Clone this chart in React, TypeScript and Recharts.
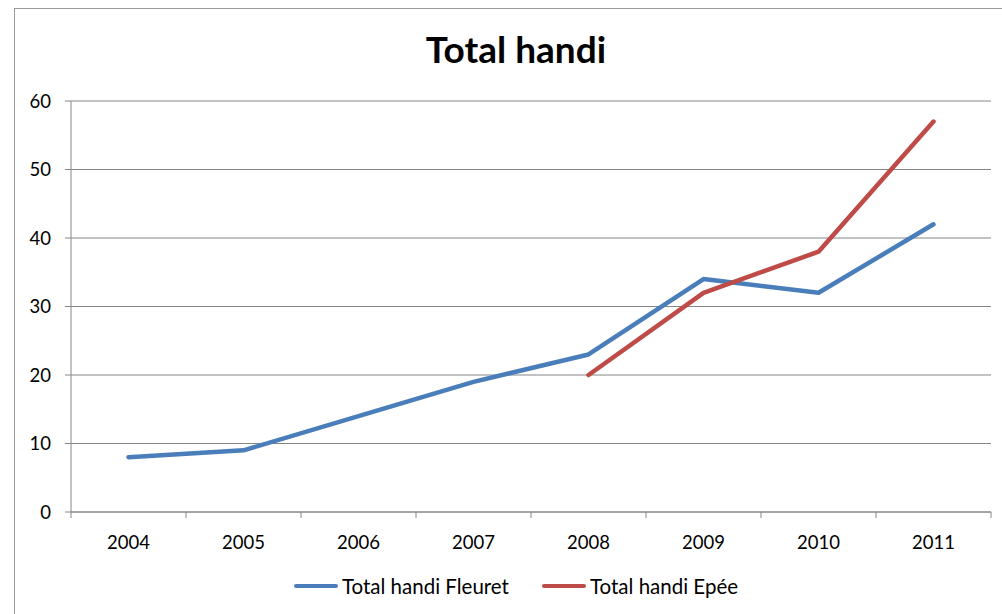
import React from 'react';
import { LineChart, Line, XAxis, YAxis, CartesianGrid, Legend } from 'recharts';

const years: string[] = ['2004', '2005', '2006', '2007', '2008', '2009', '2010', '2011'];
const fleuret: (number | null)[] = [8, 9, 14, 19, 23, 34, 32, 42];
const epee: (number | null)[] = [null, null, null, null, 20, 32, 38, 57];
const yTicks: number[] = [0, 10, 20, 30, 40, 50, 60];
const seriesNames: string[] = ['Total handi Fleuret', 'Total handi Epée'];

const data = years.map((y, i) => ({ year: y, fleuret: fleuret[i], epee: epee[i] }));

const W = 1002;
const H = 614;
const PLOT_LEFT = 71;
const PLOT_RIGHT = 991;
const BAND = (PLOT_RIGHT - PLOT_LEFT) / years.length;
const GRID = '#868686';
const FONT = 'Lato, "Open Sans", sans-serif';

function XTick(props: any) {
  const { x, y, payload, index, visibleTicksCount } = props;
  const last = index === visibleTicksCount - 1;
  return (
    <g>
      <line x1={x - BAND / 2} x2={x - BAND / 2} y1={y} y2={y + 6} stroke={GRID} strokeWidth={1} />
      {last && <line x1={x + BAND / 2} x2={x + BAND / 2} y1={y} y2={y + 6} stroke={GRID} strokeWidth={1} />}
      <text x={x} y={y + 37} textAnchor="middle" fill="#000" fontSize={18.5} fontFamily={FONT}>
        {payload.value}
      </text>
    </g>
  );
}

function LegendContent(props: any) {
  const items = [...(props.payload || [])].sort(
    (a: any, b: any) => seriesNames.indexOf(a.value) - seriesNames.indexOf(b.value)
  );
  return (
    <div style={{ display: 'flex', justifyContent: 'center', gap: 33, alignItems: 'center', width: '100%' }}>
      {items.map((p: any) => (
        <div key={p.value} style={{ display: 'flex', alignItems: 'center' }}>
          <div style={{ width: 44, height: 4.5, borderRadius: 2.5, background: p.color, marginRight: 4 }} />
          <span style={{ fontFamily: FONT, fontSize: 20.5, color: '#000', lineHeight: '26px' }}>{p.value}</span>
        </div>
      ))}
    </div>
  );
}

export default function App() {
  return (
    <div style={{ position: 'absolute', left: 0, top: 0, width: W, height: H, overflow: 'hidden', background: '#fff' }}>
      <div
        style={{
          position: 'absolute',
          left: 14,
          top: 8,
          width: 1100,
          height: 800,
          border: '1px solid #9a9a9a',
        }}
      />
      <div
        style={{
          position: 'absolute',
          left: 15,
          width: 1002,
          top: 30,
          textAlign: 'center',
          fontFamily: FONT,
          fontWeight: 700,
          fontSize: 37,
          lineHeight: 1,
          color: '#000',
        }}
      >
        Total handi
      </div>
      <div style={{ position: 'absolute', left: 0, top: 0 }}>
        <LineChart width={W} height={H} data={data} margin={{ top: 101, right: W - PLOT_RIGHT, bottom: 62, left: 0 }}>
          <CartesianGrid vertical={false} stroke={GRID} strokeWidth={1} />
          <XAxis
            dataKey="year"
            height={40}
            padding={{ left: BAND / 2, right: BAND / 2 }}
            axisLine={{ stroke: GRID, strokeWidth: 1 }}
            tickLine={false}
            tickSize={0}
            tickMargin={0}
            tick={<XTick />}
            interval={0}
          />
          <YAxis
            width={PLOT_LEFT}
            domain={[0, 60]}
            ticks={yTicks}
            axisLine={{ stroke: GRID, strokeWidth: 1 }}
            tickLine={{ stroke: GRID, strokeWidth: 1 }}
            tickSize={6}
            tickMargin={14}
            tick={{ fill: '#000', fontSize: 18.5, fontFamily: FONT }}
          />
          <Legend
            layout="horizontal"
            verticalAlign="middle"
            align="center"
            wrapperStyle={{ top: 573, left: 15, width: 1002, height: 26 }}
            content={<LegendContent />}
          />
          <Line
            type="linear"
            dataKey="fleuret"
            name={seriesNames[0]}
            stroke="#4A7EBB"
            strokeWidth={4.5}
            strokeLinecap="round"
            strokeLinejoin="round"
            dot={false}
            activeDot={false}
            isAnimationActive={false}
          />
          <Line
            type="linear"
            dataKey="epee"
            name={seriesNames[1]}
            stroke="#BE4B48"
            strokeWidth={4.5}
            strokeLinecap="round"
            strokeLinejoin="round"
            dot={false}
            activeDot={false}
            isAnimationActive={false}
          />
        </LineChart>
      </div>
    </div>
  );
}
